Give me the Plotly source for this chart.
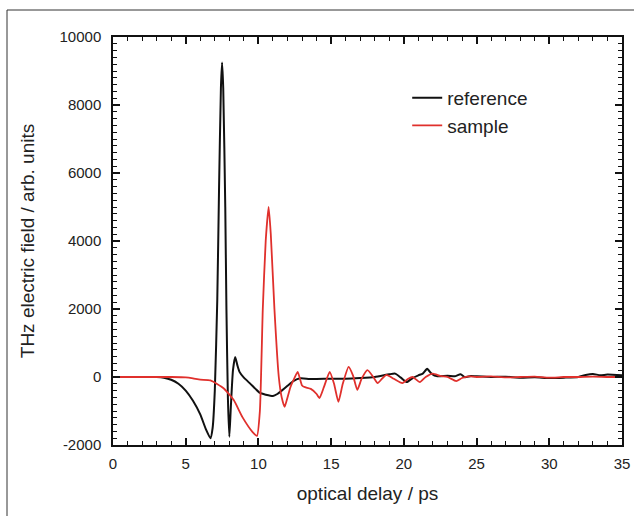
import plotly.graph_objects as go

# reference pulse (black)
ref_t = [0, 2, 3, 3.5, 4, 4.5, 5, 5.5, 6, 6.4, 6.7, 6.85, 7.0, 7.17, 7.29, 7.42, 7.5, 7.58, 7.72, 7.8, 7.9, 8.0,
         8.1, 8.25, 8.4, 8.55, 8.7, 9.0, 9.4, 9.8, 10.1, 10.5, 11.0, 11.3, 11.6, 12.0, 12.4, 12.9, 13.5, 14, 15, 16,
         17, 18, 19, 19.4, 19.8, 20.2, 20.6, 21, 21.3, 21.6, 21.9, 22.3, 23, 23.5, 23.9, 24.2, 24.6, 25, 26, 27, 28,
         29, 30, 31, 32, 32.5, 33, 33.5, 34, 35]
ref_e = [0, 0, 0, -20, -80, -200, -400, -700, -1100, -1550, -1800, -1500, -400, 2260, 5500, 8500, 9250, 8500, 5000,
         2000, -600, -1760, -900, 200, 590, 350, 150, -20, -180, -350, -470, -520, -560, -500, -400, -260, -120, -40,
         -60, -60, -50, -50, -30, 0, 80, 100, -20, -150, -30, 50, 100, 240, 100, 20, 40, 20, 80, -10, 30, 20, 0, 10,
         -20, -10, -30, -20, 0, 60, 90, 50, 70, 50]

# sample pulse (red)
smp_t = [0, 4, 5, 5.5, 6, 6.7, 7.6, 8.3, 8.9, 9.6, 9.9, 10.1, 10.3, 10.5, 10.7, 10.85, 11.1, 11.4, 11.6, 11.8, 12.0,
         12.2, 12.4, 12.7, 13.0, 13.2, 13.6, 14.0, 14.2, 14.5, 14.9, 15.2, 15.5, 15.8, 16.2, 16.5, 16.8, 17.1, 17.5,
         17.9, 18.2, 18.5, 18.8, 19.3, 19.9, 20.3, 20.6, 21.1, 21.5, 22, 22.5, 23, 23.6, 24, 24.5, 25, 26, 27, 28, 29,
         30, 31, 32, 33, 34, 35]
smp_e = [0, 0, -10, -40, -80, -100, -330, -680, -1180, -1620, -1730, -1000, 2000, 4000, 5000, 4200, 2000, 0, -600,
         -880, -600, -300, -100, 150, -250, -300, -350, -500, -620, -300, 150, -200, -730, -200, 300, 50, -380, -50,
         200, 0, -180, -50, 60, -50, -180, -50, 0, -150, 0, 100, 30, 0, -120, -30, 20, 0, 20, -10, 0, 10, -20, 0, 0,
         10, 0, 0]

x_ticks = [0, 5, 10, 15, 20, 25, 30, 35]
y_ticks = [-2000, 0, 2000, 4000, 6000, 8000, 10000]

fig = go.Figure()
fig.add_trace(go.Scatter(x=ref_t, y=ref_e, mode="lines", name="reference",
                         line=dict(color="#111111", width=2, shape="spline", smoothing=0.5)))
fig.add_trace(go.Scatter(x=smp_t, y=smp_e, mode="lines", name="sample",
                         line=dict(color="#e0302c", width=1.8, shape="spline", smoothing=0.5)))

axis_common = dict(showline=True, linecolor="#111", linewidth=1.5, mirror="allticks", ticks="inside",
                   ticklen=7, tickwidth=1.5, tickcolor="#111", showgrid=False, zeroline=False,
                   tickfont=dict(size=15, color="#222"))
fig.update_xaxes(range=[0, 35], tickvals=x_ticks, ticktext=[str(v) for v in x_ticks],
                 minor=dict(ticks="inside", dtick=1, ticklen=4, tickcolor="#111", tickwidth=1.2),
                 ticklabelstandoff=4,
                 title=dict(text="optical delay / ps", font=dict(size=19, color="#222"), standoff=16),
                 **axis_common)
fig.update_yaxes(range=[-2000, 10000], tickvals=y_ticks, ticktext=[str(v) for v in y_ticks],
                 minor=dict(ticks="inside", dtick=200, ticklen=4, tickcolor="#111", tickwidth=1.2),
                 ticklabelstandoff=7,
                 title=dict(text="THz electric field / arb. units", font=dict(size=19, color="#222"), standoff=20),
                 **axis_common)

# outer frame of the figure panel
fig.add_shape(type="rect", xref="paper", yref="paper", x0=(7 - 113) / 509, x1=1.2, y0=-0.5,
              y1=(445 - 10) / 408, line=dict(color="#333", width=1), fillcolor="rgba(0,0,0,0)", layer="below")

fig.update_layout(
    width=634, height=516,
    margin=dict(l=113, r=12, t=37, b=71, autoexpand=False),
    paper_bgcolor="white", plot_bgcolor="white",
    font=dict(family="Arial, Liberation Sans, sans-serif", color="#222"),
    legend=dict(x=0.578, y=0.8975, xanchor="left", yanchor="top", bgcolor="rgba(0,0,0,0)",
                font=dict(size=19, color="#222"), tracegroupgap=0),
    showlegend=True,
)

fig.write_html("out.html", config={"displayModeBar": False},
               post_script="document.body.style.margin='0';document.body.style.overflow='hidden';")
